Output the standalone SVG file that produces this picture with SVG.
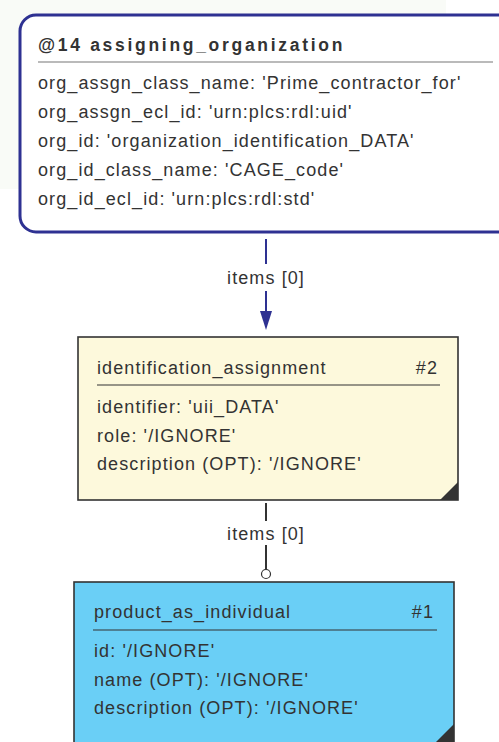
<svg xmlns="http://www.w3.org/2000/svg" width="499" height="742" viewBox="0 0 499 742">
<style>
text{font-family:"Liberation Sans",Arial,sans-serif;font-size:18px;fill:#333;letter-spacing:1.1px}
.title{font-weight:bold;letter-spacing:2.7px;font-size:17.5px}
.sep{stroke:#333;stroke-width:1.2}
.box{stroke:#333;stroke-width:1.6}
.corner{fill:#333}
</style>
<rect width="499" height="742" fill="#fff"/>
<rect x="0" y="0" width="446" height="189" fill="#f9fbf7"/>
<g id="connectors">
<line x1="266" y1="239" x2="266" y2="264" stroke="#2e3192" stroke-width="2"/>
<line x1="266" y1="291" x2="266" y2="312" stroke="#2e3192" stroke-width="2"/>
<path d="M260,311 L272,311 L266,330 Z" fill="#2e3192"/>
<text x="266" y="284" text-anchor="middle">items [0]</text>
<line x1="266" y1="503" x2="266" y2="521" stroke="#333" stroke-width="2"/>
<line x1="266" y1="545" x2="266" y2="570" stroke="#333" stroke-width="2"/>
<circle cx="266" cy="574" r="4.5" fill="#fff" stroke="#333" stroke-width="1.2"/>
<text x="266" y="540" text-anchor="middle">items [0]</text>
</g>
<g id="node14">
<rect x="20" y="15" width="500" height="217" rx="16" ry="16" fill="#fff" stroke="#2e3192" stroke-width="3"/>
<text x="38" y="51" class="title">@14 assigning_organization</text>
<line x1="38" y1="62" x2="493" y2="62" stroke="#777" stroke-width="1.2"/>
<text x="38" y="89">org_assgn_class_name: 'Prime_contractor_for'</text>
<text x="38" y="118">org_assgn_ecl_id: 'urn:plcs:rdl:uid'</text>
<text x="38" y="147">org_id: 'organization_identification_DATA'</text>
<text x="38" y="176">org_id_class_name: 'CAGE_code'</text>
<text x="38" y="205">org_id_ecl_id: 'urn:plcs:rdl:std'</text>
</g>
<g id="node2">
<rect x="78" y="337" width="380" height="163" fill="#fdf9dc" class="box"/>
<path d="M458,482 L458,500 L440,500 Z" class="corner"/>
<text x="97" y="374">identification_assignment</text>
<text x="438" y="374" text-anchor="end">#2</text>
<line x1="97" y1="385" x2="440" y2="385" class="sep"/>
<text x="97" y="413">identifier: 'uii_DATA'</text>
<text x="97" y="442">role: '/IGNORE'</text>
<text x="97" y="470">description (OPT): '/IGNORE'</text>
</g>
<g id="node1">
<rect x="74" y="582" width="380" height="175" fill="#6acff6" class="box"/>
<path d="M454,724 L454,742 L436,742 Z" class="corner"/>
<text x="94" y="618">product_as_individual</text>
<text x="434" y="618" text-anchor="end">#1</text>
<line x1="93" y1="630" x2="437" y2="630" class="sep"/>
<text x="94" y="657">id: '/IGNORE'</text>
<text x="94" y="686">name (OPT): '/IGNORE'</text>
<text x="94" y="714">description (OPT): '/IGNORE'</text>
</g>
</svg>
